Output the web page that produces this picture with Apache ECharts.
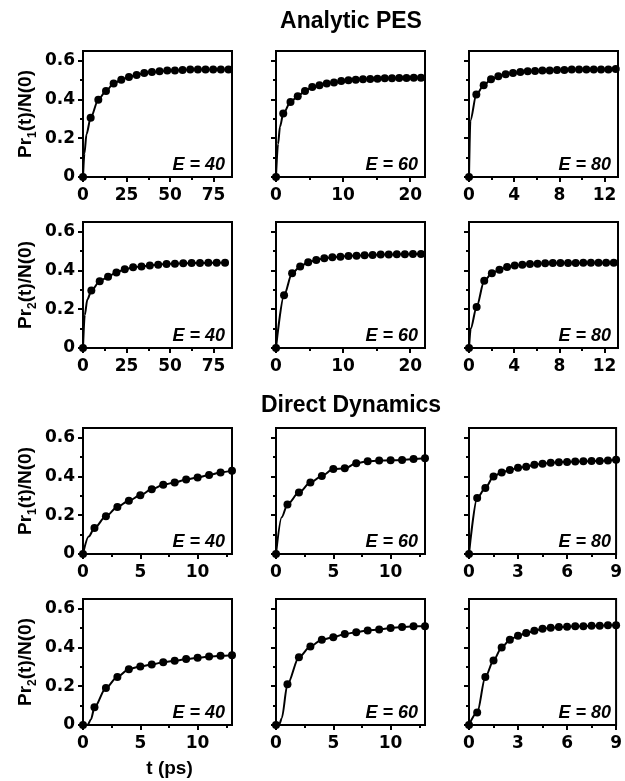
<!DOCTYPE html>
<html>
<head>
<meta charset="utf-8">
<script src="https://cdn.jsdelivr.net/npm/echarts@6/dist/echarts.min.js"></script>
<style>
html, body { margin: 0; padding: 0; background: #fff; }
#chart { width: 625px; height: 781px; }
</style>
</head>
<body>
<div id="chart"></div>
<script>
// ---- data ----
// Analytic PES, Pr1
var p1_t = [0, 4.4, 8.8, 13.2, 17.6, 22, 26.4, 30.8, 35.2, 39.6, 44, 48.4, 52.8, 57.2, 61.6, 66, 70.4, 74.8, 79.2, 83.6];
var p1_v = [0, 0.306, 0.399, 0.444, 0.482, 0.502, 0.516, 0.526, 0.537, 0.542, 0.545, 0.549, 0.550, 0.552, 0.554, 0.554, 0.555, 0.555, 0.555, 0.555];
var p1_lead = [[0.8, 0.12], [2, 0.22]];
var p2_t = [0, 1.08, 2.16, 3.24, 4.32, 5.4, 6.48, 7.56, 8.64, 9.72, 10.8, 11.88, 12.96, 14.04, 15.12, 16.2, 17.28, 18.36, 19.44, 20.52, 21.6];
var p2_v = [0, 0.327, 0.387, 0.416, 0.444, 0.464, 0.473, 0.482, 0.488, 0.495, 0.499, 0.502, 0.504, 0.506, 0.507, 0.509, 0.509, 0.511, 0.511, 0.512, 0.512];
var p2_lead = [[0.3, 0.17], [0.6, 0.26]];
var p3_t = [0, 0.65, 1.3, 1.95, 2.6, 3.25, 3.9, 4.55, 5.2, 5.85, 6.5, 7.15, 7.8, 8.45, 9.1, 9.75, 10.4, 11.05, 11.7, 12.35, 13.0];
var p3_v = [0, 0.425, 0.473, 0.504, 0.520, 0.530, 0.537, 0.542, 0.545, 0.547, 0.549, 0.550, 0.552, 0.552, 0.554, 0.554, 0.554, 0.555, 0.555, 0.555, 0.557];
var p3_lead = [[0.12, 0.29]];
// Analytic PES, Pr2
var p4_t = [0, 4.8, 9.6, 14.4, 19.2, 24, 28.8, 33.6, 38.4, 43.2, 48, 52.8, 57.6, 62.4, 67.2, 72, 76.8, 81.6];
var p4_v = [0, 0.296, 0.344, 0.368, 0.390, 0.406, 0.416, 0.421, 0.426, 0.430, 0.433, 0.435, 0.437, 0.438, 0.438, 0.440, 0.440, 0.440];
var p4_lead = [[1, 0.17], [2.5, 0.25]];
var p5_t = [0, 1.2, 2.4, 3.6, 4.8, 6, 7.2, 8.4, 9.6, 10.8, 12, 13.2, 14.4, 15.6, 16.8, 18, 19.2, 20.4, 21.6];
var p5_v = [0, 0.272, 0.385, 0.421, 0.442, 0.454, 0.463, 0.468, 0.471, 0.475, 0.476, 0.478, 0.480, 0.482, 0.482, 0.483, 0.483, 0.485, 0.485];
var p5_lead = [];
var p6_t = [0, 0.675, 1.35, 2.025, 2.7, 3.375, 4.05, 4.725, 5.4, 6.075, 6.75, 7.425, 8.1, 8.775, 9.45, 10.125, 10.8, 11.475, 12.15, 12.825];
var p6_v = [0, 0.212, 0.347, 0.385, 0.404, 0.418, 0.425, 0.430, 0.433, 0.435, 0.437, 0.438, 0.438, 0.438, 0.438, 0.440, 0.440, 0.440, 0.440, 0.440];
var p6_lead = [[0.15, 0.10]];
// Direct Dynamics, Pr1
var p7_t = [0, 1, 2, 3, 4, 5, 6, 7, 8, 9, 10, 11, 12, 13];
var p7_v = [0, 0.134, 0.195, 0.243, 0.275, 0.303, 0.334, 0.357, 0.369, 0.384, 0.395, 0.407, 0.421, 0.430];
var p7_lead = [[0.5, 0.09]];
var p8_t = [0, 1, 2, 3, 4, 5, 6, 7, 8, 9, 10, 11, 12, 13];
var p8_v = [0, 0.256, 0.317, 0.369, 0.403, 0.438, 0.442, 0.468, 0.478, 0.482, 0.483, 0.485, 0.490, 0.494];
var p8_lead = [[0.5, 0.19]];
var p9_t = [0, 0.5, 1, 1.5, 2, 2.5, 3, 3.5, 4, 4.5, 5, 5.5, 6, 6.5, 7, 7.5, 8, 8.5, 9];
var p9_v = [0, 0.289, 0.341, 0.400, 0.421, 0.433, 0.445, 0.450, 0.461, 0.466, 0.471, 0.473, 0.475, 0.477, 0.478, 0.480, 0.480, 0.482, 0.486];
var p9_lead = [];
// Direct Dynamics, Pr2
var p10_t = [0, 1, 2, 3, 4, 5, 6, 7, 8, 9, 10, 11, 12, 13];
var p10_v = [0, 0.091, 0.191, 0.248, 0.288, 0.302, 0.312, 0.324, 0.331, 0.340, 0.347, 0.353, 0.357, 0.360];
var p10_lead = [[0.4, 0.0], [0.7, 0.03]];
var p11_t = [0, 1, 2, 3, 4, 5, 6, 7, 8, 9, 10, 11, 12, 13];
var p11_v = [0, 0.210, 0.350, 0.405, 0.440, 0.453, 0.469, 0.479, 0.488, 0.493, 0.500, 0.505, 0.509, 0.509];
var p11_lead = [[0.3, 0.005], [0.5, 0.035]];
var p12_t = [0, 0.5, 1, 1.5, 2, 2.5, 3, 3.5, 4, 4.5, 5, 5.5, 6, 6.5, 7, 7.5, 8, 8.5, 9];
var p12_v = [0, 0.064, 0.247, 0.333, 0.400, 0.440, 0.460, 0.474, 0.486, 0.497, 0.502, 0.505, 0.507, 0.509, 0.510, 0.512, 0.512, 0.514, 0.514];
var p12_lead = [];

var energies = ['E = 40', 'E = 60', 'E = 80'];
var sectionTitles = ['Analytic PES', 'Direct Dynamics'];
var yMajor = [0, 0.2, 0.4, 0.6];
var yMinor = [0.1, 0.3, 0.5];
// x axis per column: [max, major ticks, minor ticks]
var xPes = [
  [85.6, [0, 25, 50, 75], [12.5, 37.5, 62.5]],
  [22.2, [0, 10, 20], [5, 15]],
  [13.2, [0, 4, 8, 12], [2, 6, 10]]
];
var xDyn = [
  [13, [0, 5, 10], [2.5, 7.5, 12.5]],
  [13, [0, 5, 10], [2.5, 7.5, 12.5]],
  [9, [0, 3, 6, 9], [1.5, 4.5, 7.5]]
];

var panels = [
  [p1_t, p1_v, p1_lead], [p2_t, p2_v, p2_lead], [p3_t, p3_v, p3_lead],
  [p4_t, p4_v, p4_lead], [p5_t, p5_v, p5_lead], [p6_t, p6_v, p6_lead],
  [p7_t, p7_v, p7_lead], [p8_t, p8_v, p8_lead], [p9_t, p9_v, p9_lead],
  [p10_t, p10_v, p10_lead], [p11_t, p11_v, p11_lead], [p12_t, p12_v, p12_lead]
];

// ---- layout ----
var colLeft = [83, 276, 469];
var rowTop = [51, 222, 428, 599];
var gw = 149, gh = 126;

var tickFont = { fontFamily: 'DejaVu Sans', fontWeight: 'bold', fontSize: 17, color: '#000' };
var black = { color: '#000', width: 2 };

var chart = echarts.init(document.getElementById('chart'), null, { renderer: 'canvas' });

var grids = [], xAxes = [], yAxes = [], series = [], graphics = [];

panels.forEach(function (p, i) {
  var row = Math.floor(i / 3), col = i % 3;
  var xc = (row < 2 ? xPes : xDyn)[col];
  var left = colLeft[col], top = rowTop[row];
  grids.push({ left: left, top: top, width: gw, height: gh, show: true, borderColor: '#000', borderWidth: 2 });

  var xMajorAxis = {
    type: 'value', gridIndex: i, position: 'bottom', min: 0, max: xc[0],
    axisLine: { show: true, onZero: false, lineStyle: black },
    axisTick: { show: true, length: 5, lineStyle: black, customValues: xc[1] },
    axisLabel: Object.assign({ customValues: xc[1], margin: 10 }, tickFont),
    splitLine: { show: false }
  };
  if (row === 3 && col === 0) {
    xMajorAxis.name = 't (ps)';
    xMajorAxis.nameLocation = 'middle';
    xMajorAxis.nameGap = 34;
    xMajorAxis.nameTextStyle = { fontFamily: 'Liberation Sans', fontWeight: 'bold', fontSize: 19, color: '#000', padding: [0, 0, 0, 24] };
  }
  xAxes.push(xMajorAxis);
  xAxes.push({
    type: 'value', gridIndex: i, position: 'bottom', min: 0, max: xc[0],
    axisLine: { show: false },
    axisTick: { show: true, length: 3, lineStyle: black, customValues: xc[2] },
    axisLabel: { show: false }, splitLine: { show: false }
  });

  var yMajorAxis = {
    type: 'value', gridIndex: i, position: 'left', min: 0, max: 0.65,
    axisLine: { show: true, onZero: false, lineStyle: black },
    axisTick: { show: true, length: 5, lineStyle: black, customValues: yMajor },
    axisLabel: Object.assign({
      show: col === 0, customValues: yMajor, margin: 8,
      formatter: function (v) { return v === 0 ? '0' : v.toFixed(1); }
    }, tickFont),
    splitLine: { show: false }
  };
  if (col === 0) {
    var sub = (row % 2 === 0) ? '1' : '2';
    yMajorAxis.name = '{a|Pr}{s|' + sub + '}{a|(t)/N(0)}';
    yMajorAxis.nameLocation = 'middle';
    yMajorAxis.nameRotate = 90;
    yMajorAxis.nameGap = 44;
    yMajorAxis.nameTextStyle = {
      color: '#000',
      rich: {
        a: { fontFamily: 'Liberation Sans', fontWeight: 'bold', fontSize: 19, color: '#000', lineHeight: 22, verticalAlign: 'middle' },
        s: { fontFamily: 'Liberation Sans', fontWeight: 'bold', fontSize: 12, color: '#000', lineHeight: 26, verticalAlign: 'bottom' }
      }
    };
  }
  yAxes.push(yMajorAxis);
  yAxes.push({
    type: 'value', gridIndex: i, position: 'left', min: 0, max: 0.65,
    axisLine: { show: false },
    axisTick: { show: true, length: 3, lineStyle: black, customValues: yMinor },
    axisLabel: { show: false }, splitLine: { show: false }
  });

  var t = p[0], v = p[1], lead = p[2];
  var dots = t.map(function (x, k) { return [x, v[k]]; });
  var curve = [dots[0]].concat(lead, dots.slice(1));
  series.push({
    type: 'line', xAxisIndex: 2 * i, yAxisIndex: 2 * i, data: curve,
    symbol: 'none', smooth: 0.3, smoothMonotone: 'x',
    lineStyle: { color: '#000', width: 2 }, silent: true
  });
  series.push({
    type: 'scatter', xAxisIndex: 2 * i, yAxisIndex: 2 * i, data: dots,
    symbol: 'circle', symbolSize: 8, itemStyle: { color: '#000', opacity: 1 }, clip: false, silent: true
  });

  graphics.push({
    type: 'text', x: left + gw - 7, y: top + gh - 3,
    style: {
      text: energies[col], font: 'italic bold 18px "Liberation Sans"', fill: '#000',
      align: 'right', verticalAlign: 'bottom', textAlign: 'right', textVerticalAlign: 'bottom'
    }
  });
});

[22, 406].forEach(function (y, k) {
  graphics.push({
    type: 'text', x: 351, y: y,
    style: {
      text: sectionTitles[k], font: 'bold 23px "Liberation Sans"', fill: '#000',
      align: 'center', verticalAlign: 'middle', textAlign: 'center', textVerticalAlign: 'middle'
    }
  });
});

chart.setOption({
  animation: false,
  backgroundColor: '#fff',
  grid: grids,
  xAxis: xAxes,
  yAxis: yAxes,
  series: series,
  graphic: graphics
});
</script>
</body>
</html>
